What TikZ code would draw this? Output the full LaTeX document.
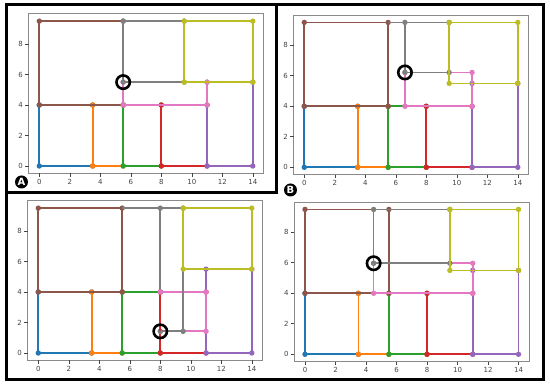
\documentclass[tikz,border=0pt]{standalone}
\usepackage{fontspec}
\setmainfont{DejaVu Sans}
\definecolor{c0}{HTML}{1F77B4}
\definecolor{c1}{HTML}{FF7F0E}
\definecolor{c2}{HTML}{2CA02C}
\definecolor{c3}{HTML}{D62728}
\definecolor{c4}{HTML}{9467BD}
\definecolor{c5}{HTML}{8C564B}
\definecolor{c6}{HTML}{E377C2}
\definecolor{c7}{HTML}{7F7F7F}
\definecolor{c8}{HTML}{BCBD22}
\definecolor{axcol}{HTML}{8A8A8A}
\definecolor{tickcol}{HTML}{444444}
\tikzset{
  room/.style={line width=1.7pt},
  axbox/.style={draw=axcol, line width=1pt},
  tickmark/.style={draw=tickcol, line width=0.6pt},
  ticklbl/.style={inner sep=0pt, text=tickcol, font=\fontsize{7}{7}\selectfont},
  ring/.style={draw=black, line width=2.6pt},
  panellbl/.style={circle, fill=black, text=white, inner sep=0pt, minimum size=13pt, font=\bfseries\fontsize{10}{10}\selectfont},
  frameline/.style={draw=black, line width=3pt}
}
% rectangle with corner markers: colour, x1, y1, x2, y2
\newcommand\roomrect[5]{%
  \draw[room,#1] (#2,#3) rectangle (#4,#5);
  \fill[#1] (#2,#3) circle (2.7pt) (#4,#3) circle (2.7pt) (#4,#5) circle (2.7pt) (#2,#5) circle (2.7pt);
}
% panel: origin x, origin y (px), moving point x, y, extra drawing
\newcommand\plotpanel[5]{%
\begin{scope}[shift={(#1,#2)}, x=15.25pt, y=15.25pt]
  \draw[axbox] (-0.7,-0.475) rectangle (14.7,9.975);
  \foreach \t in {0,2,...,14} {
    \draw[tickmark] (\t,-0.475) -- ++(0,-3.5pt);
    \node[ticklbl, anchor=north] at ([yshift=-5.6pt]\t,-0.475) {\t};
  }
  \foreach \t in {0,2,...,8} {
    \draw[tickmark] (-0.7,\t) -- ++(-3.5pt,0);
    \node[ticklbl, anchor=east] at ([xshift=-5.5pt]-0.7,\t) {\t};
  }
  \roomrect{c0}{0}{0}{3.5}{4}
  \roomrect{c1}{3.5}{0}{5.5}{4}
  \roomrect{c2}{5.5}{0}{8}{4}
  \roomrect{c3}{8}{0}{11}{4}
  \roomrect{c4}{11}{0}{14}{5.5}
  \roomrect{c5}{0}{4}{5.5}{9.5}
  \roomrect{c6}{#3}{4}{11}{#4}
  \draw[room,c7] (#3,#4) -- (9.5,#4) -- (9.5,9.5) -- (5.5,9.5) -- (#3,9.5) -- cycle;
  \fill[c7] (#3,#4) circle (2.7pt) (9.5,#4) circle (2.7pt) (9.5,9.5) circle (2.7pt) (#3,9.5) circle (2.7pt);
  #5
  \roomrect{c8}{9.5}{5.5}{14}{9.5}
  \draw[ring] (#3,#4) circle (6.7pt);
\end{scope}}
\begin{document}
\begin{tikzpicture}[x=1pt,y=-1pt]
\useasboundingbox (0,0) rectangle (550,387);
\fill[white] (0,0) rectangle (550,387);
\plotpanel{39.3}{166}{5.5}{5.5}{}
\plotpanel{304.3}{167.3}{6.6}{6.22}{}
\plotpanel{38.3}{353}{8}{1.42}{\draw[room,c3] (8,1.42) -- (8,4); \fill[c6] (8,4) circle (2.7pt);}
\plotpanel{305}{354.3}{4.5}{5.97}{}
\draw[frameline] (6,5) rectangle (543,380);
\draw[frameline] (276,5) -- (276,193) -- (6,193);
\node[panellbl] (labA) at (21.5,182) {A};
\node[panellbl] (labB) at (290.5,190) {B};
\end{tikzpicture}
\end{document}
